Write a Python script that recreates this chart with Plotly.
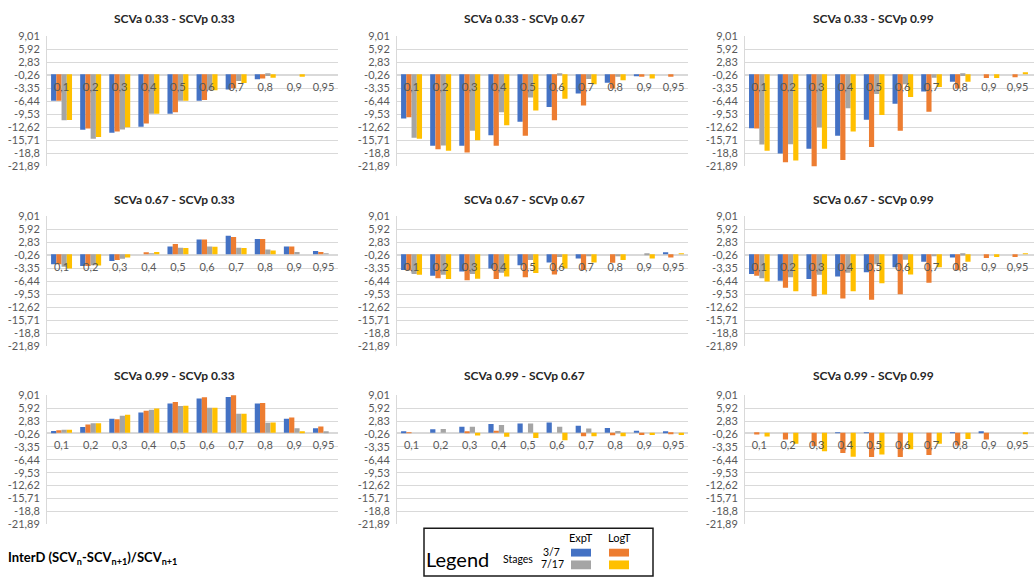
import plotly.graph_objects as go
from plotly.subplots import make_subplots

W, H = 1034, 587

categories = ["0,1", "0,2", "0,3", "0,4", "0,5", "0,6", "0,7", "0,8", "0,9", "0,95"]
y_ticks = [9.01, 5.92, 2.83, -0.26, -3.35, -6.44, -9.53, -12.62, -15.71, -18.8, -21.89]
series_names = ["ExpT 3/7", "LogT 3/7", "ExpT 7/17", "LogT 7/17"]

# SCVa 0.33
a33_p33_exp37 = [-6.3, -13.2, -13.9, -12.5, -9.4, -6.3, -3.6, -1.2, 0, 0]
a33_p33_log37 = [-6.3, -12.9, -13.6, -11.7, -9.0, -6.1, -3.3, -1.0, 0, 0]
a33_p33_exp717 = [-10.9, -15.3, -13.1, -9.4, -6.3, -3.8, -1.6, -0.4, 0, 0]
a33_p33_log717 = [-10.85, -14.9, -12.6, -9.4, -6.3, -3.8, -2.1, -0.8, -0.6, 0]

a33_p67_exp37 = [-10.5, -17.0, -17.0, -14.5, -11.3, -7.8, -4.6, -2.0, -0.5, 0]
a33_p67_log37 = [-10.2, -17.8, -18.6, -17.0, -14.6, -10.9, -7.4, -3.4, -0.6, -0.6]
a33_p67_exp717 = [-15.1, -16.9, -13.4, -9.0, -5.5, -0.3, -1.1, -0.6, 0, 0]
a33_p67_log717 = [-15.3, -18.2, -15.7, -12.1, -8.6, -5.8, -2.4, -1.4, -1.0, 0]

a33_p99_exp37 = [-12.8, -18.8, -17.7, -14.6, -10.8, -7.0, -4.1, -1.8, 0, 0]
a33_p99_log37 = [-12.9, -20.9, -21.9, -20.4, -17.3, -13.4, -8.9, -3.4, -0.9, -0.7]
a33_p99_exp717 = [-16.7, -16.6, -12.6, -8.1, -4.7, -2.4, -0.8, -0.4, 0, 0]
a33_p99_log717 = [-18.2, -20.5, -17.7, -13.6, -9.7, -5.4, -3.0, -1.8, -0.9, 0.3]

# SCVa 0.67
a67_p33_exp37 = [-2.4, -2.8, -1.6, 0, 1.8, 3.5, 4.4, 3.6, 1.8, 0.75]
a67_p33_log37 = [-2.4, -2.8, -1.4, 0.45, 2.4, 3.5, 4.1, 3.6, 1.8, 0.5]
a67_p33_exp717 = [-3.0, -2.6, -1.1, 0.2, 1.5, 1.8, 1.5, 1.1, 0.5, 0.2]
a67_p33_log717 = [-3.4, -2.7, -0.8, 0.5, 1.45, 1.75, 1.45, 0.9, 0, 0]

a67_p67_exp37 = [-3.75, -5.1, -4.1, -3.4, -2.6, -2.0, -1.0, 0, 0, 0.45]
a67_p67_log37 = [-3.9, -5.7, -6.2, -5.9, -5.5, -4.8, -3.75, -2.05, 0, -0.8]
a67_p67_exp717 = [-4.7, -4.9, -4.7, -4.4, -1.4, -0.65, -0.5, -0.5, -0.1, 0]
a67_p67_log717 = [-4.9, -5.9, -5.85, -5.3, -4.5, -3.4, -2.0, -1.4, -1.0, 0.1]

a67_p99_exp37 = [-4.7, -6.3, -5.9, -5.3, -4.3, -3.1, -1.8, -0.8, 0, 0]
a67_p99_log37 = [-5.1, -8.0, -10.0, -10.5, -10.8, -9.5, -6.8, -3.8, -0.9, -0.65]
a67_p99_exp717 = [-5.7, -5.5, -4.9, -4.4, -2.4, -1.3, -0.5, -0.3, 0, 0]
a67_p99_log717 = [-6.5, -8.8, -9.6, -8.8, -6.9, -4.8, -3.1, -1.8, -0.65, 0.15]

# SCVa 0.99
a99_p33_exp37 = [0.45, 1.4, 3.4, 4.9, 7.0, 8.2, 8.6, 7.0, 3.4, 1.1]
a99_p33_log37 = [0.6, 2.0, 3.25, 5.3, 7.4, 8.5, 9.1, 7.15, 3.7, 1.5]
a99_p33_exp717 = [0.75, 2.3, 4.1, 5.5, 6.4, 6.0, 4.6, 2.4, 1.1, 0.3]
a99_p33_log717 = [0.75, 2.3, 4.35, 5.8, 6.5, 6.0, 4.6, 2.5, 0.2, 0]

a99_p67_exp37 = [0.35, 0.85, 1.45, 2.1, 2.25, 2.5, 1.7, 1.15, 0.5, 0.2]
a99_p67_log37 = [0.15, 0, 0.3, 0.5, 0, 0, -0.8, -0.55, -0.5, -0.35]
a99_p67_exp717 = [0, 0.9, 1.45, 1.9, 2.25, 1.45, 1.05, 0.45, 0, 0]
a99_p67_log717 = [0, 0, -0.65, -0.95, -1.25, -1.75, -0.8, -0.8, -0.5, -0.5]

a99_p99_exp37 = [0, 0, 0, 0.15, 0.15, 0, 0, 0.15, 0.2, 0]
a99_p99_log37 = [-0.4, -1.6, -3.15, -4.85, -5.8, -5.8, -5.3, -3.0, -1.6, 0]
a99_p99_exp717 = [0, 0, 0, 0, 0, 0, 0, 0, 0, 0]
a99_p99_log717 = [-0.9, -2.6, -4.4, -5.7, -5.2, -3.9, -2.6, -1.5, 0, -0.3]

panels = [
    ("SCVa 0.33 - SCVp 0.33", [a33_p33_exp37, a33_p33_log37, a33_p33_exp717, a33_p33_log717]),
    ("SCVa 0.33 - SCVp 0.67", [a33_p67_exp37, a33_p67_log37, a33_p67_exp717, a33_p67_log717]),
    ("SCVa 0.33 - SCVp 0.99", [a33_p99_exp37, a33_p99_log37, a33_p99_exp717, a33_p99_log717]),
    ("SCVa 0.67 - SCVp 0.33", [a67_p33_exp37, a67_p33_log37, a67_p33_exp717, a67_p33_log717]),
    ("SCVa 0.67 - SCVp 0.67", [a67_p67_exp37, a67_p67_log37, a67_p67_exp717, a67_p67_log717]),
    ("SCVa 0.67 - SCVp 0.99", [a67_p99_exp37, a67_p99_log37, a67_p99_exp717, a67_p99_log717]),
    ("SCVa 0.99 - SCVp 0.33", [a99_p33_exp37, a99_p33_log37, a99_p33_exp717, a99_p33_log717]),
    ("SCVa 0.99 - SCVp 0.67", [a99_p67_exp37, a99_p67_log37, a99_p67_exp717, a99_p67_log717]),
    ("SCVa 0.99 - SCVp 0.99", [a99_p99_exp37, a99_p99_log37, a99_p99_exp717, a99_p99_log717]),
]

colors = ["#4472C4", "#ED7D31", "#A5A5A5", "#FFC000"]
FONT = "Lato, 'Noto Sans', sans-serif"

def px(x):
    return x / W

def py(y):
    return 1 - y / H

col_dom = [(47, 338), (397, 688), (745, 1034)]
col_range = [(-0.5, 9.5), (-0.5, 9.5), (-0.5, 9.57)]
row_dom = [(30, 163), (214, 347), (397, 529)]
title_x = [174, 524, 873]
title_y = [12, 197, 377]

fig = make_subplots(rows=3, cols=3)

for i, (title, vals) in enumerate(panels):
    r, c = i // 3 + 1, i % 3 + 1
    for s in range(4):
        fig.add_trace(go.Bar(x=categories, y=vals[s], name=series_names[s],
                             marker=dict(color=colors[s], line=dict(width=0)),
                             showlegend=False), row=r, col=c)
    fig.add_trace(go.Scatter(x=categories, y=[-3.3] * len(categories), mode="text",
                             text=categories, textposition="middle center",
                             textfont=dict(size=11, color="#595959", family=FONT),
                             showlegend=False, hoverinfo="skip", cliponaxis=False),
                  row=r, col=c)
    idx = "" if i == 0 else str(i + 1)
    x0, x1 = col_dom[c - 1]
    y0, y1 = row_dom[r - 1]
    fig.layout["xaxis" + idx].update(domain=[px(x0), px(x1)], type="category",
                                     range=list(col_range[c - 1]), showticklabels=False,
                                     showgrid=False, showline=False, zeroline=False, ticks="")
    fig.layout["yaxis" + idx].update(domain=[py(y1), py(y0)], range=[-21.89, 9.01],
                                     tickvals=y_ticks,
                                     ticktext=[str(v).replace(".", ",") for v in y_ticks],
                                     tickfont=dict(size=11, color="#595959", family=FONT),
                                     showgrid=True, gridcolor="#d9d9d9", gridwidth=1,
                                     showline=True, linecolor="#d9d9d9", linewidth=1,
                                     zeroline=True, zerolinecolor="#d9d9d9", zerolinewidth=1,
                                     ticks="", ticklabelstandoff=4)
    fig.add_annotation(x=px(title_x[c - 1]), y=py(title_y[r - 1]), xref="paper", yref="paper",
                       text="<b>" + title + "</b>", showarrow=False,
                       xanchor="center", yanchor="middle",
                       font=dict(size=12, color="#262626", family=FONT))

# bottom-left label
fig.add_annotation(x=px(6), y=py(563), xref="paper", yref="paper",
                   text="<b>InterD (SCV<sub>n</sub>-SCV<sub>n+1</sub>)/SCV<sub>n+1</sub></b>",
                   showarrow=False, xanchor="left", yanchor="middle",
                   font=dict(size=13, color="#000000", family=FONT))

# custom legend box
shapes = [dict(type="rect", xref="paper", yref="paper", x0=px(424), x1=px(653),
               y0=py(582), y1=py(533), line=dict(color="#1a1a1a", width=1.5),
               fillcolor="white")]
sw = [(571, 591, 554, 562, colors[0]), (609, 629, 554, 562, colors[1]),
      (571, 591, 566, 575, colors[2]), (609, 629, 566, 575, colors[3])]
for xa, xb, ya, yb, col in sw:
    shapes.append(dict(type="rect", xref="paper", yref="paper", x0=px(xa), x1=px(xb),
                       y0=py(yb), y1=py(ya), line=dict(width=0), fillcolor=col))
fig.update_layout(shapes=shapes)

leg_txt = [
    ("Legend", 457, 564, 20),
    ("Stages", 518, 564, 10.5),
    ("3/7", 551, 557, 10.5),
    ("7/17", 552, 570, 10.5),
    ("ExpT", 581, 543, 11),
    ("LogT", 619, 543, 11),
]
for t, x, y, s in leg_txt:
    fig.add_annotation(x=px(x), y=py(y), xref="paper", yref="paper", text=t,
                       showarrow=False, xanchor="center", yanchor="middle",
                       font=dict(size=s, color="#000000", family=FONT))

fig.update_layout(width=W, height=H, margin=dict(l=0, r=0, t=0, b=0),
                  paper_bgcolor="white", plot_bgcolor="white",
                  barmode="group", bargap=0.28, bargroupgap=0,
                  font=dict(family=FONT), showlegend=False)

fig.write_html("out.html", config={"displayModeBar": False},
               post_script="document.body.style.margin='0';document.body.style.overflow='hidden';")
